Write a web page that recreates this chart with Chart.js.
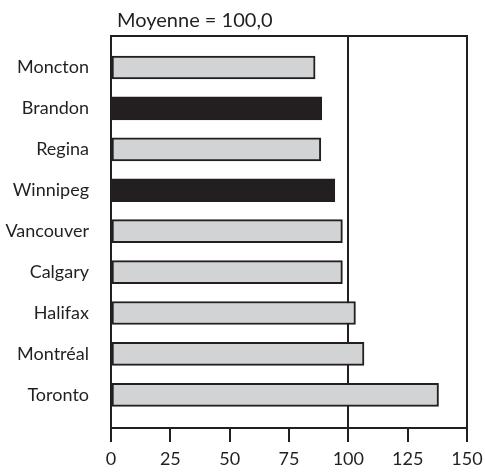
<!DOCTYPE html>
<html>
<head>
<meta charset="utf-8">
<script src="https://cdn.jsdelivr.net/npm/chart.js@4.4.1/dist/chart.umd.min.js"></script>
<style>
  html, body { margin: 0; padding: 0; background: #fff; }
  #wrap { width: 485px; height: 473px; }
</style>
</head>
<body>
<div id="wrap"><canvas id="chart" width="485" height="473"></canvas></div>
<script>
const cities = ["Moncton", "Brandon", "Regina", "Winnipeg", "Vancouver", "Calgary", "Halifax", "Montréal", "Toronto"];
const values = [86, 88.8, 88.4, 94.3, 97.5, 97.5, 103, 106.6, 138];
const highlighted = ["Brandon", "Winnipeg"];
const xTicks = [0, 25, 50, 75, 100, 125, 150];
const titleText = "Moyenne = 100,0";

const ink = "#231f20";
const grey = "#d1d3d4";
const fontFamily = "Lato, 'Open Sans', sans-serif";

const boxPlugin = {
  id: "box",
  afterDatasetsDraw(chart) {
    const { ctx, chartArea: a } = chart;
    ctx.save();
    ctx.strokeStyle = ink;
    ctx.lineWidth = 2;
    ctx.strokeRect(a.left, a.top, a.right - a.left, a.bottom - a.top);
    ctx.fillStyle = ink;
    ctx.font = "20px " + fontFamily;
    ctx.textBaseline = "alphabetic";
    ctx.textAlign = "left";
    ctx.fillText(titleText, a.left + 6, 27);
    ctx.restore();
  }
};

new Chart(document.getElementById("chart"), {
  type: "bar",
  data: {
    datasets: [{
      data: values.map((v, i) => ({ x: v, y: i })),
      backgroundColor: cities.map((c) => highlighted.includes(c) ? ink : grey),
      borderColor: ink,
      borderWidth: 2,
      barThickness: 23,
      borderSkipped: false
    }]
  },
  options: {
    indexAxis: "y",
    responsive: false,
    animation: false,
    layout: { padding: { top: 36, right: 18, left: 0, bottom: 0 } },
    plugins: { legend: { display: false }, tooltip: { enabled: false } },
    scales: {
      y: {
        type: "linear",
        reverse: true,
        offset: false,
        min: -0.77,
        max: 8.81,
        afterBuildTicks(scale) {
          scale.ticks = cities.map((c, i) => ({ value: i }));
        },
        afterFit(scale) { scale.width = 111; },
        grid: { display: false },
        border: { display: false },
        ticks: {
          padding: 14,
          color: ink,
          font: { family: fontFamily, size: 18 },
          callback: (v) => cities[v]
        }
      },
      x: {
        type: "linear",
        min: 0,
        max: 150,
        afterBuildTicks(scale) {
          scale.ticks = xTicks.map((v) => ({ value: v }));
        },
        afterFit(scale) {
          scale.height = 45;
          scale.paddingLeft = 0;
          scale.paddingRight = 0;
        },
        border: { display: false },
        grid: {
          drawOnChartArea: true,
          color: (c) => c.tick && c.tick.value === 100 ? ink : "transparent",
          tickColor: ink,
          lineWidth: 2,
          tickLength: 14
        },
        ticks: {
          padding: 6,
          color: ink,
          font: { family: fontFamily, size: 18 }
        }
      }
    }
  },
  plugins: [boxPlugin]
});
</script>
</body>
</html>
